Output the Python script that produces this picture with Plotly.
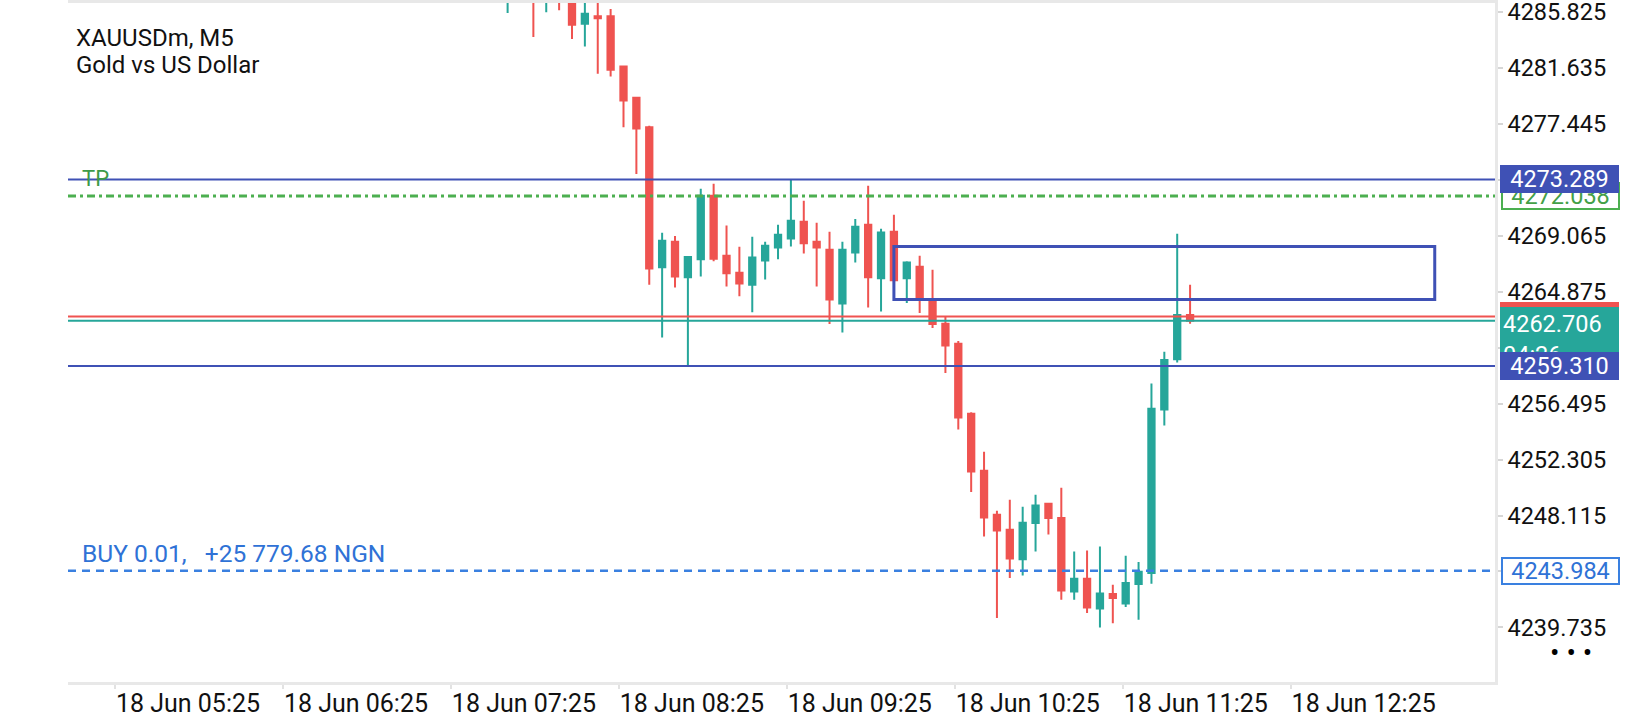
import plotly.graph_objects as go

# chart header
symbol = "XAUUSDm, M5"
description = "Gold vs US Dollar"

# M5 candles, numbered from the first bar visible at the top edge (bar 1 is off-screen above)
bar_index = [0, 2, 3, 4, 5, 6, 7, 8, 9, 10,
             11, 12, 13, 14, 15, 16, 17, 18, 19, 20,
             21, 22, 23, 24, 25, 26, 27, 28, 29, 30,
             31, 32, 33, 34, 35, 36, 37, 38, 39, 40,
             41, 42, 43, 44, 45, 46, 47, 48, 49, 50,
             51, 52, 53]
open_prices = [4287.20, 4288.60, 4287.00, 4288.00, 4287.30, 4284.95, 4285.50, 4285.50, 4281.75, 4279.40,
               4277.20, 4266.70, 4268.62, 4265.95, 4267.30, 4272.07, 4267.57, 4266.30, 4265.40, 4267.22,
               4268.19, 4268.87, 4270.12, 4268.62, 4268.02, 4264.00, 4267.82, 4269.89, 4265.88, 4269.37,
               4265.88, 4266.75, 4264.28, 4262.48, 4260.98, 4255.74, 4251.47, 4248.17, 4247.05, 4244.83,
               4247.55, 4249.00, 4247.93, 4242.43, 4243.38, 4241.16, 4242.23, 4241.53, 4242.98, 4243.81,
               4256.06, 4259.81, 4263.13]
high_prices = [4288.40, 4289.10, 4288.80, 4288.50, 4287.80, 4286.90, 4286.90, 4286.05, 4281.80, 4279.45,
               4277.30, 4269.30, 4269.05, 4267.50, 4272.59, 4272.97, 4269.83, 4268.25, 4268.99, 4268.62,
               4269.89, 4273.289, 4271.69, 4270.04, 4269.37, 4268.62, 4270.32, 4272.82, 4269.60, 4270.64,
               4267.15, 4267.57, 4266.53, 4262.98, 4261.18, 4255.84, 4252.89, 4248.47, 4249.30, 4248.77,
               4249.67, 4249.05, 4250.20, 4245.42, 4245.50, 4245.80, 4242.93, 4245.10, 4244.63, 4258.00,
               4260.38, 4269.22, 4265.40]
low_prices = [4285.75, 4283.95, 4285.80, 4285.95, 4283.80, 4283.25, 4281.20, 4281.00, 4277.20, 4273.70,
              4265.40, 4261.45, 4265.20, 4259.31, 4266.02, 4267.15, 4265.27, 4264.53, 4263.33, 4265.80,
              4267.30, 4268.27, 4267.73, 4265.27, 4262.46, 4261.83, 4267.07, 4263.70, 4263.40, 4265.50,
              4264.03, 4263.28, 4262.16, 4258.79, 4254.56, 4249.87, 4246.55, 4240.44, 4243.43, 4243.63,
              4245.42, 4246.70, 4241.81, 4241.81, 4240.81, 4239.73, 4240.05, 4241.27, 4240.30, 4243.00,
              4254.86, 4259.58, 4262.48]
close_prices = [4288.00, 4287.20, 4288.20, 4287.10, 4284.87, 4285.70, 4285.35, 4281.50, 4279.20, 4277.10,
                4266.62, 4268.70, 4266.02, 4267.48, 4272.07, 4267.35, 4266.25, 4265.50, 4267.43, 4268.32,
                4269.14, 4270.19, 4268.50, 4268.19, 4264.30, 4268.02, 4269.75, 4265.95, 4269.32, 4265.73,
                4267.07, 4264.40, 4262.46, 4260.85, 4255.46, 4251.42, 4247.97, 4247.00, 4244.90, 4247.57,
                4248.87, 4247.93, 4242.50, 4243.38, 4241.23, 4242.28, 4241.93, 4243.06, 4243.90, 4256.11,
                4259.76, 4263.13, 4262.706]

# axis labels
time_labels = ["18 Jun 05:25", "18 Jun 06:25", "18 Jun 07:25", "18 Jun 08:25",
               "18 Jun 09:25", "18 Jun 10:25", "18 Jun 11:25", "18 Jun 12:25"]
price_ticks = [4285.825, 4281.635, 4277.445, 4273.255, 4269.065, 4264.875,
               4260.685, 4256.495, 4252.305, 4248.115, 4243.925, 4239.735]

# levels and objects on the chart
level_high = 4273.289
level_low = 4259.310
tp_price = 4272.038
buy_price = 4243.984
bid_price = 4262.706
ask_price = 4263.026
countdown = "04:26"
order_text = "BUY 0.01,\u00a0\u00a0 +25\u00a0779.68 NGN"
zone_start, zone_end = 30, 72
zone_bottom, zone_top = 4264.30, 4268.27

TEAL = "#26a69a"
RED = "#ef5350"
INDIGO = "#3f51b5"
GREEN = "#4caf50"
BLUE = "#3a80e0"
FONT = "Roboto"

fig = go.Figure()
fig.add_trace(go.Candlestick(
    x=bar_index, open=open_prices, high=high_prices, low=low_prices, close=close_prices,
    increasing=dict(line=dict(color=TEAL, width=2), fillcolor=TEAL),
    decreasing=dict(line=dict(color=RED, width=2), fillcolor=RED),
    whiskerwidth=0, hoverinfo="skip", showlegend=False,
))


def hline(price, color, width=2, dash="solid"):
    fig.add_shape(type="line", xref="paper", x0=0, x1=1, yref="y", y0=price, y1=price,
                  line=dict(color=color, width=width, dash=dash), layer="above")


hline(level_high, INDIGO)
hline(tp_price, GREEN, 3, "8px,4px,3px,4px")
hline(ask_price, RED)
hline(bid_price, TEAL)
hline(level_low, INDIGO)
hline(buy_price, BLUE, 2.5, "8px,6px")

fig.add_shape(type="rect", xref="x", yref="y", x0=zone_start, x1=zone_end,
              y0=zone_bottom, y1=zone_top, line=dict(color=INDIGO, width=3),
              fillcolor="rgba(0,0,0,0)", layer="above")


def price_tag(price, text, fill, border, color, bw=1, xshift=5, **kw):
    opts = dict(xref="paper", x=1, xanchor="left", xshift=xshift, yref="y", y=price,
                yanchor="middle", text=text, showarrow=False, bgcolor=fill,
                bordercolor=border, borderwidth=bw, borderpad=2,
                width=119 - 2 * (bw + 2), height=28 - 2 * (bw + 2),
                font=dict(family=FONT, size=23.5, color=color))
    opts.update(kw)
    fig.add_annotation(**opts)


price_tag(tp_price, f"{tp_price:.3f}", "white", GREEN, "#43a047", bw=2, xshift=6)
price_tag(level_high, f"{level_high:.3f}", INDIGO, INDIGO, "white")
price_tag(ask_price, f"{ask_price:.3f}", RED, RED, "white")
price_tag(bid_price, f"{bid_price:.3f}<br>{countdown}", TEAL, TEAL, "white",
          yanchor="top", yshift=14, height=52, align="left", valign="top")
price_tag(level_low, f"{level_low:.3f}", INDIGO, INDIGO, "white")
price_tag(buy_price, f"{buy_price:.3f}", "white", BLUE, "#2f72d6", bw=2, xshift=6)

# text on the chart
fig.add_annotation(xref="paper", x=0, xanchor="left", xshift=6, yref="paper", y=1,
                   yanchor="middle", yshift=-34.5, text=symbol, showarrow=False,
                   font=dict(family=FONT, size=24, color="#111"))
fig.add_annotation(xref="paper", x=0, xanchor="left", xshift=6, yref="paper", y=1,
                   yanchor="middle", yshift=-62, text=description, showarrow=False,
                   font=dict(family=FONT, size=24, color="#111"))
fig.add_annotation(xref="paper", x=0, xanchor="left", xshift=12, yref="y", y=tp_price,
                   yanchor="bottom", yshift=3, text="TP", showarrow=False,
                   font=dict(family=FONT, size=22, color="#3d9a48"))
fig.add_annotation(xref="paper", x=0, xanchor="left", xshift=12, yref="y", y=buy_price,
                   yanchor="bottom", yshift=1, text=order_text, showarrow=False,
                   font=dict(family=FONT, size=24.5, color="#2f72d6"))
fig.add_annotation(xref="paper", x=1, xanchor="center", xshift=76, yref="paper", y=0,
                   yanchor="middle", yshift=30, text="•\u00a0•\u00a0•", showarrow=False,
                   font=dict(family=FONT, size=28, color="#000"))

tick_start, tick_step = -30.49, 13.043
fig.update_xaxes(
    range=[-34.14, 76.68], rangeslider_visible=False, automargin=False,
    tickvals=[tick_start + k * tick_step for k in range(len(time_labels))],
    ticktext=time_labels, ticks="outside", ticklen=4, tickwidth=2, tickcolor="#e2e2e2",
    ticklabelshift=73, ticklabelstandoff=-7, ticklabeloverflow="allow",
    tickfont=dict(family=FONT, size=25, color="#111"),
    showline=True, linecolor="#e8e8e8", linewidth=2.5, mirror=True,
    showgrid=False, zeroline=False, fixedrange=True,
)
fig.update_yaxes(
    side="right", range=[4235.646, 4286.499], automargin=False,
    tickvals=price_ticks, ticktext=[f"{v:.3f}" for v in price_ticks],
    ticks="outside", ticklen=5, tickwidth=1.5, tickcolor="#d6d6d6",
    ticklabeloverflow="allow", tickfont=dict(family=FONT, size=23.5, color="#111"),
    showline=True, linecolor="#e8e8e8", linewidth=2.5,
    showgrid=False, zeroline=False, fixedrange=True,
)
fig.update_layout(
    width=1640, height=720,
    margin=dict(l=68, r=145, t=3, b=38),
    plot_bgcolor="white", paper_bgcolor="white",
    showlegend=False, hovermode=False,
)

# the page body has a default 8px margin; drop it so the figure sits at the window corner
fig.write_html("out.html", config={"displayModeBar": False},
               post_script="document.body.style.margin = '0px';")
